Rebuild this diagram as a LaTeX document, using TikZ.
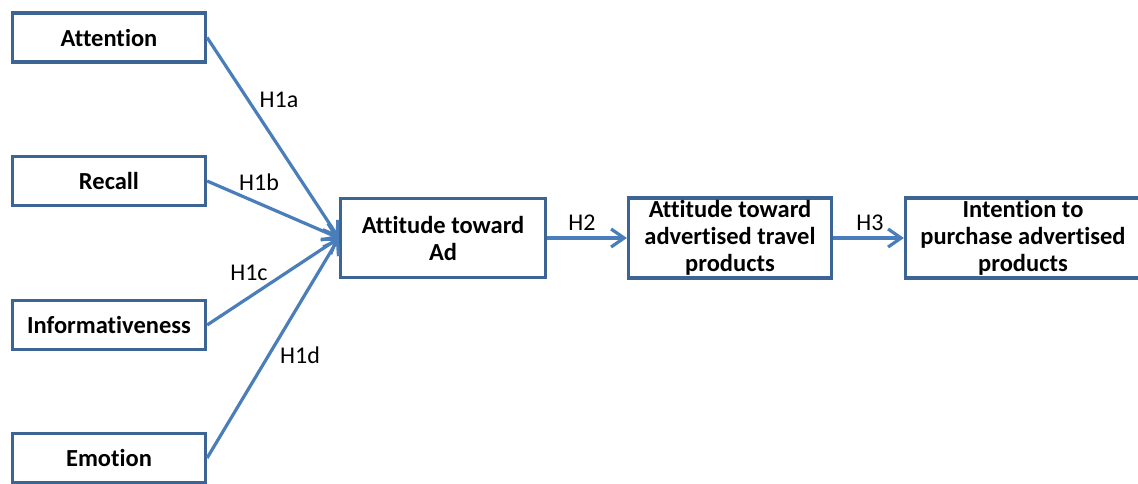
\documentclass[tikz,border=0pt]{standalone}
\usepackage{fontspec}
\setmainfont{Carlito}[Ligatures=CommonOff]
\usetikzlibrary{arrows.meta}
\definecolor{boxline}{HTML}{3C6494}
\definecolor{linkline}{HTML}{4A7EBB}
\tikzset{
  box/.style={draw=boxline, line width=3.2pt, fill=white, rectangle, inner sep=2pt,
    align=center, font=\fontsize{24.5}{27}\selectfont\bfseries},
  link/.style={draw=linkline, line width=3.2pt,
    -{Straight Barb[length=13pt,width=18pt,line width=3.2pt]}},
  hyp/.style={font=\fontsize{24}{27}\selectfont, inner sep=0pt}
}
\begin{document}
\begin{tikzpicture}[x=1pt,y=-1pt]
\useasboundingbox (0,0) rectangle (1138,483);
\clip (0,0) rectangle (1138,483);

% antecedent constructs
\node[box, minimum width=193pt, minimum height=49pt] (att) at (109,37.5) {Attention};
\node[box, minimum width=193pt, minimum height=49pt] (rec) at (109,181) {Recall};
\node[box, minimum width=193pt, minimum height=49pt] (inf) at (109,325) {Informativeness};
\node[box, minimum width=193pt, minimum height=49pt] (emo) at (109,458) {Emotion};

% attitude and intention chain
\node[box, minimum width=205pt, minimum height=79pt] (ad) at (443,238) {Attitude toward\\Ad};
\node[box, minimum width=203pt, minimum height=80pt] (trav) at (730,238) {Attitude toward\\advertised travel\\products};
\node[box, minimum width=235pt, minimum height=80pt] (int) at (1023,238) {Intention to\\purchase advertised\\products};

% hypothesised paths
\draw[link] (att.east) -- (ad.west);
\draw[link] (rec.east) -- (ad.west);
\draw[link] (inf.east) -- (ad.west);
\draw[link] (emo.east) -- (ad.west);
\draw[link] (ad.east) -- (trav.west);
\draw[link] (trav.east) -- (int.west);

% path labels
\node[hyp] (h1a) at (279,100) {H1a};
\node[hyp] (h1b) at (259,182) {H1b};
\node[hyp] (h1c) at (249,273) {H1c};
\node[hyp] (h1d) at (300,355) {H1d};
\node[hyp] (h2) at (582,223) {H2};
\node[hyp] (h3) at (870,223) {H3};
\end{tikzpicture}
\end{document}
